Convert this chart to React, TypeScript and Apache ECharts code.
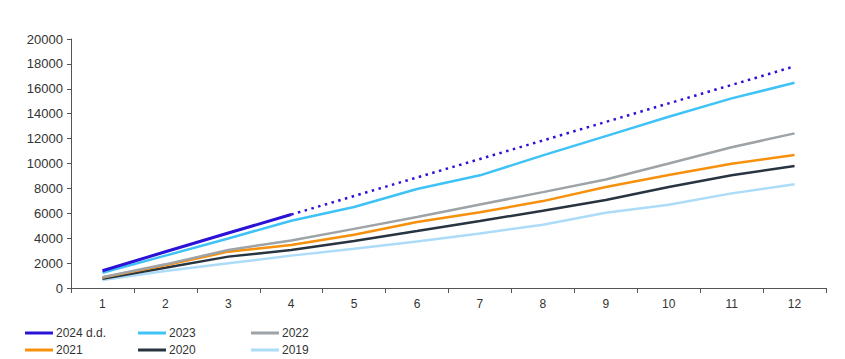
import React, { useEffect, useRef } from "react";
import * as echarts from "echarts";

const months = ["1", "2", "3", "4", "5", "6", "7", "8", "9", "10", "11", "12"];
const y2024 = [1390, 2910, 4420, 5900, null, null, null, null, null, null, null, null];
const y2024Forecast = [null, null, null, 5900, 7390, 8880, 10360, 11850, 13340, 14830, 16310, 17800];
const y2023 = [1220, 2600, 3980, 5400, 6500, 7950, 9050, 10650, 12200, 13750, 15230, 16480];
const y2022 = [860, 1900, 3050, 3820, 4750, 5700, 6700, 7700, 8720, 10000, 11300, 12420];
const y2021 = [850, 1820, 2920, 3450, 4270, 5300, 6080, 6980, 8120, 9070, 9980, 10680];
const y2020 = [750, 1630, 2520, 3050, 3780, 4570, 5380, 6210, 7070, 8120, 9060, 9800];
const y2019 = [640, 1370, 1980, 2600, 3150, 3730, 4380, 5080, 6050, 6680, 7600, 8330];
const seriesNames = ["2024 d.d.", "2023", "2022", "2021", "2020", "2019"];
const colors = ["#2a12d6", "#3fc2f6", "#9da3a6", "#f7900c", "#283440", "#acdcf8"];

export default function App() {
  const ref = useRef<HTMLDivElement>(null);
  useEffect(() => {
    if (!ref.current) return;
    const chart = echarts.init(ref.current, undefined, { renderer: "svg" });
    const dataSets = [y2024, y2023, y2022, y2021, y2020, y2019];
    const series: any[] = [];
    for (let i = dataSets.length - 1; i >= 0; i--) {
      series.push({
        name: seriesNames[i],
        type: "line",
        data: dataSets[i],
        symbol: "none",
        color: colors[i],
        lineStyle: { width: i === 0 ? 3 : 2.5, color: colors[i] },
        z: 10 - i,
      });
    }
    series.push({
      name: "forecast",
      type: "line",
      data: y2024Forecast,
      symbol: "none",
      color: colors[0],
      lineStyle: { width: 2.5, color: colors[0], type: [2.5, 4.5] },
      z: 9,
    });
    const legendPos = [
      { left: 25, top: 327 },
      { left: 138, top: 327 },
      { left: 251, top: 327 },
      { left: 25, top: 344 },
      { left: 138, top: 344 },
      { left: 251, top: 344 },
    ];
    const legends = seriesNames.map((n, i) => ({
      data: [n],
      left: legendPos[i].left,
      top: legendPos[i].top,
      icon: "rect",
      itemWidth: 28,
      itemHeight: 3,
      itemGap: 4,
      padding: 0,
      selectedMode: false,
      textStyle: { fontFamily: "Liberation Sans Narrow, Liberation Sans", fontSize: 12, color: "#333", padding: [0, 0, 0, -2] },
    }));
    chart.setOption({
      animation: false,
      grid: { left: 71, right: 19, top: 39, bottom: 71 },
      legend: legends,
      xAxis: {
        type: "category",
        data: months,
        boundaryGap: true,
        axisLine: { lineStyle: { color: "#555", width: 1 } },
        axisTick: { show: true, length: 5, lineStyle: { color: "#555" } },
        axisLabel: { color: "#333", fontSize: 12, fontFamily: "Liberation Sans", margin: 10 },
      },
      yAxis: {
        type: "value",
        min: 0,
        max: 20000,
        interval: 2000,
        splitLine: { show: false },
        axisLine: { show: true, lineStyle: { color: "#555", width: 1 } },
        axisTick: { show: true, length: 4, lineStyle: { color: "#555" } },
        axisLabel: {
          color: "#333",
          fontSize: 13,
          fontFamily: "Liberation Sans",
          margin: 8,
          formatter: (v: number) => String(v),
        },
      },
      series,
    });
    return () => chart.dispose();
  }, []);
  return <div ref={ref} style={{ width: 845, height: 359, position: "absolute", left: 0, top: 0 }} />;
}
